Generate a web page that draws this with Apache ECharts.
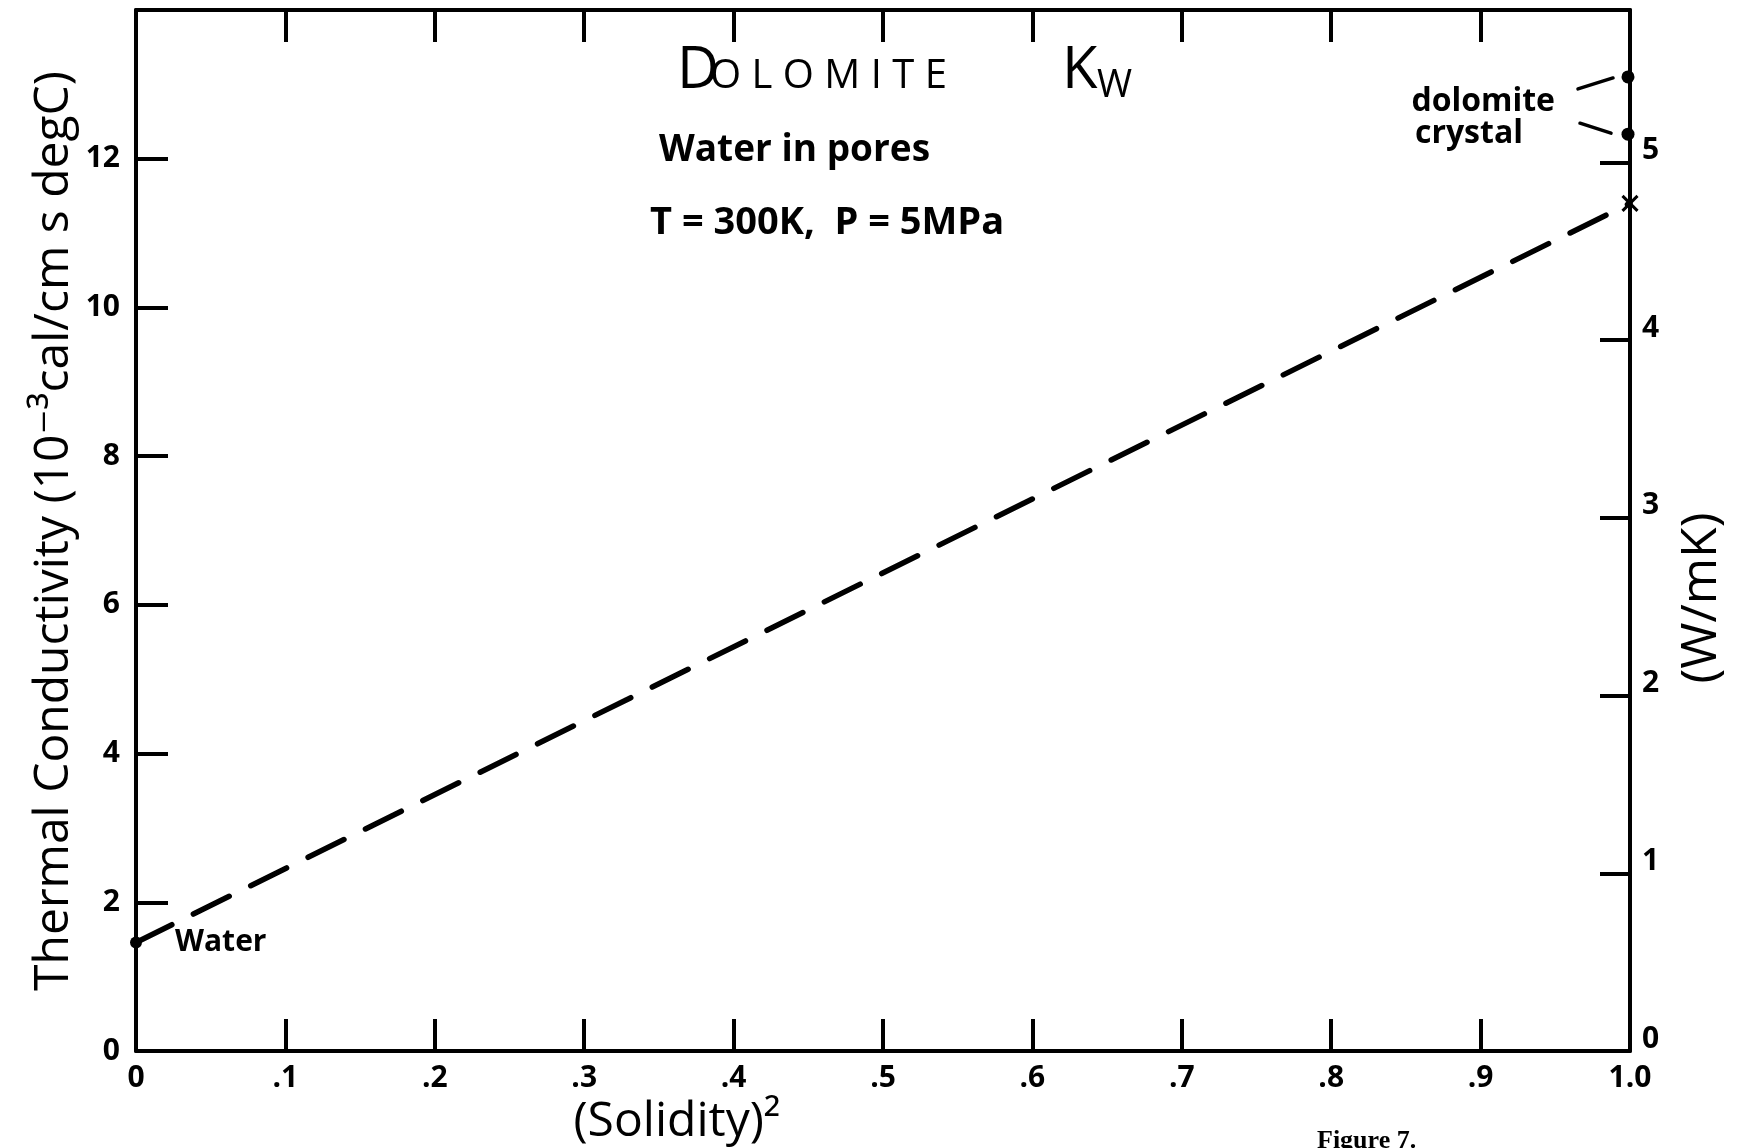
<!DOCTYPE html>
<html>
<head>
<meta charset="utf-8">
<title>Dolomite Kw</title>
<script src="https://cdn.jsdelivr.net/npm/echarts@6/dist/echarts.min.js"></script>
<style>
  html, body { margin: 0; padding: 0; background: #ffffff; }
  #chart { width: 1743px; height: 1148px; }
</style>
</head>
<body>
<div id="chart"></div>
<script>
// (Solidity)^2 tick labels along the horizontal axes
const xTickLabels = ['0', '.1', '.2', '.3', '.4', '.5', '.6', '.7', '.8', '.9', '1.0'];

// Kw of water-saturated dolomite, 10^-3 cal/cm s degC
const solidity2 = [0, 1.0];
const kwWaterFilled = [1.46, 11.4];
const endpointLabels = ['Water', ''];

// Single-crystal dolomite values plotted at solidity^2 = 1
const crystalX = [1.0, 1.0];
const crystalK = [13.1, 12.33];
const crystalLabels = ['dolomite', 'crystal'];

// Axis ranges
const kMax = 14;                 // 10^-3 cal/cm s degC
const calToSI = 0.4184;          // 1e-3 cal/cm s degC -> W/mK

const INK = '#000000';
const FONT = '"Open Sans", "DejaVu Sans", sans-serif';

const chart = echarts.init(document.getElementById('chart'), null, { renderer: 'canvas' });

const lineData = solidity2.map(function (x, i) {
  const item = { value: [x, kwWaterFilled[i]] };
  if (i === 0) {
    item.symbol = 'circle';
    item.symbolSize = 12;
    item.itemStyle = { color: INK };
    item.label = {
      show: true, position: 'right', distance: 33,
      formatter: endpointLabels[0],
      fontFamily: FONT, fontWeight: 'bold', fontSize: 30, color: INK
    };
  } else {
    item.symbol = 'path://M0,0L10,10M10,0L0,10';
    item.symbolSize = 15;
    item.itemStyle = { color: 'rgba(0,0,0,0)', borderColor: INK, borderWidth: 3 };
  }
  return item;
});

const crystalData = crystalX.map(function (x, i) { return [x, crystalK[i]]; });

// Dot, label and short leader stroke for each crystal value
function renderCrystal(params, api) {
  const p = api.coord([api.value(0), api.value(1)]);
  const cx = p[0], cy = p[1];
  const top = params.dataIndex === 0;
  const text = crystalLabels[params.dataIndex];
  const labelX = top ? cx - 75 : cx - 107;
  const labelY = top ? cy + 25 : cy;
  const lead = top
    ? { x1: cx - 52, y1: cy + 12, x2: cx - 17, y2: cy + 1 }
    : { x1: cx - 50, y1: cy - 11, x2: cx - 19, y2: cy - 1 };
  return {
    type: 'group',
    children: [
      { type: 'circle', shape: { cx: cx - 2, cy: cy, r: 6.5 }, style: { fill: INK } },
      { type: 'line', shape: lead, style: { stroke: INK, lineWidth: 3.5, lineCap: 'round' } },
      {
        type: 'text',
        style: {
          text: text, x: labelX, y: labelY,
          fill: INK, font: 'bold 32px ' + FONT,
          align: 'right', verticalAlign: 'middle',
          textAlign: 'right', textVerticalAlign: 'middle'
        }
      }
    ]
  };
}

const axisLineStyle = { color: INK, width: 4 };
const tickStyle = { color: INK, width: 4 };
const tickLabelStyle = { color: INK, fontFamily: FONT, fontWeight: 'bold', fontSize: 30 };

const option = {
  animation: false,
  backgroundColor: '#ffffff',
  grid: { left: 136, right: 113, top: 10, bottom: 97, containLabel: false },
  xAxis: [
    {
      type: 'value', position: 'bottom', min: 0, max: 1, interval: 0.1,
      axisLine: { show: true, onZero: false, lineStyle: axisLineStyle },
      axisTick: { show: true, inside: true, length: 32, lineStyle: tickStyle },
      axisLabel: Object.assign({
        margin: 12,
        formatter: function (v) { return xTickLabels[Math.round(v * 10)]; }
      }, tickLabelStyle),
      splitLine: { show: false }
    },
    {
      type: 'value', position: 'top', min: 0, max: 1, interval: 0.1,
      axisLine: { show: true, onZero: false, lineStyle: axisLineStyle },
      axisTick: { show: true, inside: true, length: 32, lineStyle: tickStyle },
      axisLabel: { show: false },
      splitLine: { show: false }
    }
  ],
  yAxis: [
    {
      type: 'value', position: 'left', min: 0, max: kMax, interval: 2,
      axisLine: { show: true, onZero: false, lineStyle: axisLineStyle },
      axisTick: { show: true, inside: true, length: 32, lineStyle: tickStyle },
      axisLabel: Object.assign({ margin: 16, showMaxLabel: false }, tickLabelStyle),
      splitLine: { show: false }
    },
    {
      type: 'value', position: 'right', min: 0, max: kMax * calToSI, interval: 1,
      axisLine: { show: true, onZero: false, lineStyle: axisLineStyle },
      axisTick: { show: true, inside: true, length: 30, lineStyle: tickStyle },
      axisLabel: Object.assign({ margin: 12, showMaxLabel: false, verticalAlign: 'bottom', lineHeight: 24 }, tickLabelStyle),
      splitLine: { show: false }
    }
  ],
  series: [
    {
      name: 'Kw',
      type: 'line',
      xAxisIndex: 0, yAxisIndex: 0,
      data: lineData,
      showSymbol: true,
      symbol: 'circle',
      symbolSize: 12,
      itemStyle: { color: INK },
      lineStyle: { color: INK, width: 5.5, type: [40, 24], cap: 'round' },
      emphasis: { disabled: true },
      silent: true,
      z: 3
    },
    {
      name: 'dolomite crystal',
      type: 'custom',
      coordinateSystem: 'cartesian2d',
      xAxisIndex: 0, yAxisIndex: 0,
      data: crystalData,
      renderItem: renderCrystal,
      clip: false,
      silent: true,
      z: 4
    }
  ],
  graphic: [
    // Chart heading
    { type: 'text', x: 677, y: 71, style: { text: 'D', font: '58px ' + FONT, fill: INK, textAlign: 'left', textVerticalAlign: 'middle' } },
    { type: 'text', x: 710, y: 77, style: { text: 'O L O M I T E', font: '40px ' + FONT, fill: INK, textAlign: 'left', textVerticalAlign: 'middle' } },
    { type: 'text', x: 1062, y: 71, style: { text: 'K', font: '58px ' + FONT, fill: INK, textAlign: 'left', textVerticalAlign: 'middle' } },
    { type: 'text', x: 1097, y: 86, style: { text: 'W', font: '38px ' + FONT, fill: INK, textAlign: 'left', textVerticalAlign: 'middle' } },
    { type: 'text', x: 659, y: 150, style: { text: 'Water in pores', font: 'bold 37px ' + FONT, fill: INK, textAlign: 'left', textVerticalAlign: 'middle' } },
    { type: 'text', x: 650, y: 223, style: { text: 'T = 300K,  P = 5MPa', font: 'bold 38px ' + FONT, fill: INK, textAlign: 'left', textVerticalAlign: 'middle' } },
    // Axis titles
    { type: 'text', x: 54, y: 531, rotation: Math.PI / 2, style: { text: 'Thermal Conductivity (10\u207B\u00B3cal/cm s degC)', font: '48px ' + FONT, fill: INK, textAlign: 'center', textVerticalAlign: 'middle' } },
    { type: 'text', x: 1702, y: 598, rotation: Math.PI / 2, style: { text: '(W/mK)', font: '50px ' + FONT, fill: INK, textAlign: 'center', textVerticalAlign: 'middle' } },
    { type: 'text', x: 677, y: 1122, style: { text: '(Solidity)\u00B2', font: '48px ' + FONT, fill: INK, textAlign: 'center', textVerticalAlign: 'middle' } },
    // Caption
    { type: 'text', x: 1317, y: 1128, style: { text: 'Figure 7.', font: 'bold 26px "Liberation Serif", "DejaVu Serif", serif', fill: INK, textAlign: 'left', textVerticalAlign: 'top' } }
  ]
};

chart.setOption(option);
</script>
</body>
</html>
